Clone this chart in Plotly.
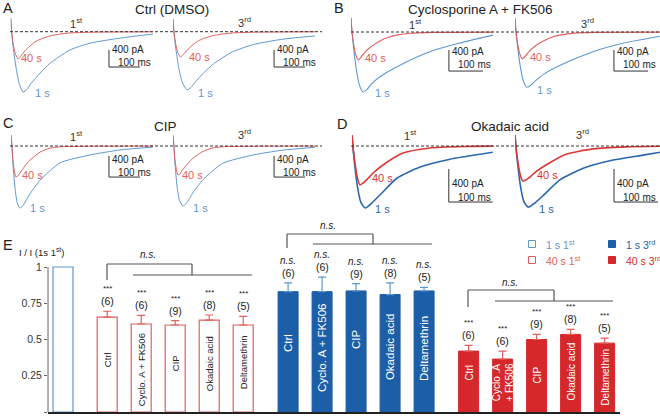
import plotly.graph_objects as go

W, H = 660, 416
FONT = "Liberation Sans, Arial, sans-serif"

# ---------------- current traces (time in ms, current in pA) ----------------
A1_blue_t = [0, 3, 7, 17, 27, 40, 53, 62, 95, 127, 191, 256, 353, 459]
A1_blue_i = [320, 0, -310, -830, -1210, -1420, -1350, -1250, -970, -740, -430, -270, -150, -55]
A1_red_t = [0, 3, 7, 15, 24, 33, 46, 62, 78, 95, 127, 159, 191, 256, 459]
A1_red_i = [320, 0, -240, -520, -640, -570, -450, -340, -240, -180, -100, -55, -30, -12, -2]
A2_blue_t = [0, 3, 7, 17, 28, 45, 58, 70, 100, 130, 190, 260, 350, 458]
A2_blue_i = [300, 0, -290, -780, -1150, -1370, -1310, -1200, -960, -760, -480, -300, -180, -100]
A2_red_t = [0, 3, 7, 15, 24, 33, 46, 62, 78, 95, 127, 159, 191, 256, 459]
A2_red_i = [300, 0, -220, -480, -595, -540, -430, -320, -230, -170, -95, -55, -30, -12, -2]

B1_blue_t = [0, 3, 7, 15, 24, 35, 47, 60, 85, 144, 232, 320, 418]
B1_blue_i = [270, 0, -260, -680, -990, -1140, -1090, -990, -850, -630, -375, -210, -60]
B1_red_t = [0, 3, 7, 14, 21, 29, 40, 55, 70, 85, 110, 135, 175, 240, 418]
B1_red_i = [270, 0, -200, -430, -530, -480, -390, -300, -230, -170, -100, -60, -25, -8, -2]
B2_blue_t = [0, 3, 7, 15, 24, 35, 47, 60, 85, 144, 232, 320, 426]
B2_blue_i = [260, 0, -240, -630, -920, -1050, -1010, -930, -800, -600, -370, -210, -80]
B2_red_t = [0, 3, 7, 14, 21, 29, 40, 55, 70, 85, 110, 135, 175, 240, 426]
B2_red_i = [260, 0, -190, -410, -510, -470, -380, -290, -220, -165, -95, -55, -22, -8, -2]

C1_blue_t = [0, 3, 6, 13, 20, 29, 40, 50, 61, 94, 158, 255, 352, 458]
C1_blue_i = [210, 0, -330, -800, -1080, -1180, -1120, -1020, -910, -650, -320, -170, -75, -20]
C1_red_t = [0, 3, 6, 11, 16, 22, 29, 45, 61, 94, 126, 160, 250, 458]
C1_red_i = [210, 0, -250, -480, -590, -570, -510, -380, -270, -115, -40, -15, -5, 0]
C2_blue_t = [0, 3, 6, 13, 21, 32, 43, 53, 64, 97, 160, 255, 352, 458]
C2_blue_i = [200, 0, -310, -760, -1040, -1140, -1090, -1000, -890, -640, -330, -175, -80, -25]
C2_red_t = [0, 3, 6, 11, 16, 22, 29, 45, 61, 94, 126, 160, 250, 458]
C2_red_i = [200, 0, -240, -450, -550, -530, -470, -350, -250, -110, -40, -15, -5, 0]

D1_blue_t = [0, 2, 6, 12, 20, 30, 45, 64, 102, 155, 223, 291, 320]
D1_blue_i = [130, 0, -220, -480, -680, -750, -690, -590, -390, -255, -160, -100, -75]
D1_red_t = [0, 2, 6, 12, 18, 25, 35, 48, 80, 116, 177, 252, 320]
D1_red_i = [130, 0, -180, -380, -470, -450, -400, -327, -194, -85, -24, -6, -2]
D2_blue_t = [0, 2, 6, 12, 20, 30, 45, 64, 102, 155, 223, 291, 330]
D2_blue_i = [130, 0, -215, -470, -670, -740, -690, -600, -410, -270, -170, -110, -75]
D2_red_t = [0, 2, 6, 12, 18, 25, 35, 48, 80, 116, 177, 252, 330]
D2_red_i = [130, 0, -170, -350, -424, -410, -370, -310, -200, -100, -35, -10, -3]

# ---------------- bar data (panel E) ----------------
drug_labels = ["Ctrl", "Cyclo. A + FK506", "CIP", "Okadaic acid", "Deltamethrin"]
drug_labels_40s3 = ["Ctrl", "Cyclo .A<br>+ FK506", "CIP", "Okadaic acid", "Deltamethrin"]
ref_1s_1st = [1.0]
mean_40s_1st = [0.655, 0.607, 0.600, 0.634, 0.600]
sem_40s_1st = [0.040, 0.060, 0.030, 0.035, 0.060]
mean_1s_3rd = [0.830, 0.830, 0.835, 0.810, 0.835]
sem_1s_3rd = [0.060, 0.100, 0.050, 0.080, 0.025]
mean_40s_3rd = [0.420, 0.365, 0.500, 0.535, 0.475]
sem_40s_3rd = [0.040, 0.055, 0.035, 0.035, 0.035]
n_cells = [6, 6, 9, 8, 5]
sig_40s_1st = ["***"] * 5
sig_1s_3rd = ["n.s."] * 5
sig_40s_3rd = ["***"] * 5
y_ticks = [0, 0.25, 0.5, 0.75, 1]
y_ticklabels = ["0", "0.25", "0.5", "0.75", "1"]

# ---------------- colours ----------------
BLUE_L = "#5f97d0"
RED_L = "#e0605e"
BLUE_D = "#2a68ad"
RED_D = "#d93a37"
BLUE_BAR = "#1c5ea7"
RED_BAR = "#d6282b"

fig = go.Figure()
layout = dict(width=W, height=H, margin=dict(l=0, r=0, t=0, b=0),
              paper_bgcolor="white", plot_bgcolor="rgba(0,0,0,0)",
              showlegend=False, font=dict(family=FONT, color="#222"))
shapes, anns = [], []


def px(x):
    return x / W


def py(y):
    return 1 - y / H


def text(t, x, y, size=11, color="#222", xa="center", ya="middle", angle=0):
    anns.append(dict(text=t, x=px(x), y=py(y), xref="paper", yref="paper",
                     xanchor=xa, yanchor=ya, showarrow=False, textangle=angle,
                     font=dict(size=size, color=color, family=FONT)))


# subplot geometry: x0 px, right px, baseline px, px per ms, pA per px
subs = [
    ("A1", 10.7, 170, 31.7, 0.31, 23.5, A1_blue_t, A1_blue_i, A1_red_t, A1_red_i, BLUE_L, RED_L, 1.0, 317),
    ("A2", 173, 330, 31.7, 0.31, 23.5, A2_blue_t, A2_blue_i, A2_red_t, A2_red_i, BLUE_L, RED_L, 1.0, 326),
    ("B1", 351, 505, 32, 0.34, 19.0, B1_blue_t, B1_blue_i, B1_red_t, B1_red_i, BLUE_L, RED_L, 1.1, 288),
    ("B2", 515, 660, 32, 0.34, 19.0, B2_blue_t, B2_blue_i, B2_red_t, B2_red_i, BLUE_L, RED_L, 1.1, 291),
    ("C1", 11, 170, 146, 0.31, 19.0, C1_blue_t, C1_blue_i, C1_red_t, C1_red_i, BLUE_L, RED_L, 1.0, 316),
    ("C2", 173, 330, 146, 0.31, 19.0, C2_blue_t, C2_blue_i, C2_red_t, C2_red_i, BLUE_L, RED_L, 1.0, 326),
    ("D1", 352, 505, 146, 0.44, 12.1, D1_blue_t, D1_blue_i, D1_red_t, D1_red_i, BLUE_D, RED_D, 1.6, 220),
    ("D2", 515, 660, 146, 0.44, 12.1, D2_blue_t, D2_blue_i, D2_red_t, D2_red_i, BLUE_D, RED_D, 1.6, 225),
]
# scale-bar top (pA) per subplot
sb_top = {"A1": -430, "A2": -430, "B1": -342, "B2": -342, "C1": -190, "C2": -190, "D1": -278, "D2": -278}
# label positions (px) for "40 s" and "1 s" per subplot
lab40 = {"A1": (19, 58), "A2": (187, 57), "B1": (363, 58), "B2": (528, 57),
         "C1": (20, 175), "C2": (180, 175), "D1": (370, 178), "D2": (535, 175)}
lab1 = {"A1": (33, 93), "A2": (196, 93), "B1": (373, 93), "B2": (535, 90),
        "C1": (28, 208), "C2": (191, 208), "D1": (373, 209), "D2": (537, 209)}

for k, (name, x0, x1, base, pxms, papx, bt, bi, rt, ri, cb, cr, lw, sbx) in enumerate(subs, start=1):
    xa = "x" if k == 1 else f"x{k}"
    ya = "y" if k == 1 else f"y{k}"
    layout["xaxis" if k == 1 else f"xaxis{k}"] = dict(
        domain=[px(x0), px(x1)], range=[0, (x1 - x0) / pxms], visible=False, anchor=ya)
    layout["yaxis" if k == 1 else f"yaxis{k}"] = dict(
        domain=[py(base + 78), py(base - 20)], range=[-78 * papx, 20 * papx], visible=False, anchor=xa)
    fig.add_trace(go.Scatter(x=bt, y=bi, xaxis=xa, yaxis=ya, mode="lines", hoverinfo="skip",
                             line=dict(color=cb, width=lw, shape="spline", smoothing=0.6)))
    fig.add_trace(go.Scatter(x=rt, y=ri, xaxis=xa, yaxis=ya, mode="lines", hoverinfo="skip",
                             line=dict(color=cr, width=lw, shape="spline", smoothing=0.6)))
    # scale bars
    top = sb_top[name]
    shapes.append(dict(type="line", xref=xa, yref=ya, x0=sbx, x1=sbx, y0=top, y1=top - 400,
                       line=dict(color="#333", width=1)))
    shapes.append(dict(type="line", xref=xa, yref=ya, x0=sbx, x1=sbx + 100, y0=top - 400, y1=top - 400,
                       line=dict(color="#333", width=1)))
    if name in ("A1", "B1", "C1", "D1"):
        xs, xe = (10, 322) if name in ("A1", "C1") else (351, 660)
        shapes.append(dict(type="line", xref="paper", yref=ya, x0=px(xs), x1=px(xe), y0=0, y1=0,
                           line=dict(color="#333", width=1, dash="3px,2px")))
    text("40 s", lab40[name][0], lab40[name][1], 11, cr, "left")
    text("1 s", lab1[name][0], lab1[name][1], 11, cb, "left")

# scale bar texts (vertical bar x in px, label y centres)
for (x, y1, y2) in [(109, 49, 62), (274, 49, 62), (449, 51, 64), (614, 51, 64),
                    (109, 159, 172), (274, 159, 172), (449, 183, 197), (614, 183, 197)]:
    text("400 pA", x + 1, y1, 10, "#222", "left")
    text("100 ms", x + 44, y2, 10, "#222", "right")

for (x, y, t) in [(76, 23, "1<sup>st</sup>"), (244, 22, "3<sup>rd</sup>"), (415, 24, "1<sup>st</sup>"),
                  (587, 23, "3<sup>rd</sup>"), (76, 136, "1<sup>st</sup>"), (244, 134, "3<sup>rd</sup>"),
                  (410, 135, "1<sup>st</sup>"), (582, 134, "3<sup>rd</sup>")]:
    text(t, x, y, 11, "#333")

text("Ctrl (DMSO)", 172, 9, 13.5)
text("Cyclosporine A + FK506", 480, 9, 13.5)
text("CIP", 165, 126, 13.5)
text("Okadaic acid", 510, 126, 13.5)
for (t, x, y) in [("A", 1, 8), ("B", 332, 8), ("C", 1, 123), ("D", 335, 124), ("E", 1, 245)]:
    text(t, x, y, 14.5, "#222", "left")

# ---------------- panel E ----------------
UNIT = 34.0
X_ORIGIN = 63.0
pos0 = [0.0]
pos1 = [1.3 + i for i in range(5)]
pos2 = [6.62 + i for i in range(5)]
pos3 = [11.93 + i for i in range(5)]
layout["xaxis9"] = dict(domain=[px(48), px(620)], range=[(48 - X_ORIGIN) / UNIT, (620 - X_ORIGIN) / UNIT],
                        anchor="y9", showline=True, linecolor="#222", linewidth=2, showticklabels=False,
                        ticks="", showgrid=False, zeroline=False)
YPX = 145.0
layout["yaxis9"] = dict(domain=[py(412), py(412 - 1.372 * YPX)], range=[0, 1.372], anchor="x9",
                        showline=False, showgrid=False, zeroline=False, tickvals=y_ticks,
                        ticktext=y_ticklabels, ticks="outside", ticklen=3, tickcolor="#666",
                        tickfont=dict(size=10.5, color="#333"))
shapes.append(dict(type="line", xref="paper", yref="y9", x0=px(48), x1=px(48), y0=0, y1=1,
                   line=dict(color="#666", width=1)))
BW = 20 / UNIT
fig.add_trace(go.Bar(x=pos0, y=ref_1s_1st, width=BW, xaxis="x9", yaxis="y9", hoverinfo="skip",
                     marker=dict(color="white", line=dict(color=BLUE_L, width=1.2))))
fig.add_trace(go.Bar(x=pos1, y=mean_40s_1st, width=BW, xaxis="x9", yaxis="y9", hoverinfo="skip",
                     marker=dict(color="white", line=dict(color=RED_L, width=1.2)),
                     error_y=dict(type="data", symmetric=False, array=sem_40s_1st, arrayminus=[0] * 5,
                                  color=RED_L, thickness=1.2, width=4)))
fig.add_trace(go.Bar(x=pos2, y=mean_1s_3rd, width=BW, xaxis="x9", yaxis="y9", hoverinfo="skip",
                     marker=dict(color=BLUE_BAR, line=dict(color=BLUE_BAR, width=1)),
                     error_y=dict(type="data", symmetric=False, array=sem_1s_3rd, arrayminus=[0] * 5,
                                  color="#5f97d0", thickness=1.2, width=4)))
fig.add_trace(go.Bar(x=pos3, y=mean_40s_3rd, width=BW, xaxis="x9", yaxis="y9", hoverinfo="skip",
                     marker=dict(color=RED_BAR, line=dict(color=RED_BAR, width=1)),
                     error_y=dict(type="data", symmetric=False, array=sem_40s_3rd, arrayminus=[0] * 5,
                                  color="#e0605e", thickness=1.2, width=4)))


def dann(t, x, y, size, color, yshift=0, ya="bottom", angle=0, italic=False):
    anns.append(dict(text=f"<i>{t}</i>" if italic else t, x=x, y=y, xref="x9", yref="y9",
                     xanchor="center", yanchor=ya, yshift=yshift, showarrow=False, textangle=angle,
                     font=dict(size=size, color=color, family=FONT)))


def vy(pyv):
    return (412 - pyv) / YPX


for pos, means, sems, sigs, italic, lab_y, labs, lcol, lsize in [
    (pos1, mean_40s_1st, sem_40s_1st, sig_40s_1st, False, [360, 370, 363, 364, 362], drug_labels, "#222", 9.5),
    (pos2, mean_1s_3rd, sem_1s_3rd, sig_1s_3rd, True, [343, 348, 339, 347, 349], drug_labels, "white", 11.5),
    (pos3, mean_40s_3rd, sem_40s_3rd, sig_40s_3rd, False, [373, 382, 375, 372, 377], drug_labels_40s3, "white", 10),
]:
    for i in range(5):
        top = means[i] + sems[i]
        dann(f"({n_cells[i]})", pos[i], top, 10.5, "#222", yshift=2)
        if italic:
            dann(sigs[i], pos[i], top, 10, "#222", yshift=15, italic=True)
        else:
            dann(sigs[i], pos[i], top, 8, "#222", yshift=16)
        dann(labs[i], pos[i], vy(lab_y[i]), lsize, lcol, ya="middle", angle=-90)


def xu(pxv):
    return (pxv - X_ORIGIN) / UNIT


# significance brackets (positions in px converted to axis units)
for (xl, xr, xlo0, xlo1, ytop, yleft, ylow, ns_x, ns_y) in [
    (107, 192, 133, 252, 264, 280, 275, 148, 255),
    (287, 373, 313, 432, 234, 248, 244, 328, 226),
    (468, 554, 495, 613, 290, 307, 301, 510, 282),
]:
    for (a, b, c, d) in [(xl, yleft, xl, ytop), (xl, ytop, xr, ytop), (xr, ytop, xr, ylow), (xlo0, ylow, xlo1, ylow)]:
        shapes.append(dict(type="line", xref="x9", yref="y9", x0=xu(a), y0=vy(b), x1=xu(c), y1=vy(d),
                           line=dict(color="#555", width=1.2)))
    dann("n.s.", xu(ns_x), vy(ns_y), 10, "#222", ya="middle", italic=True)

text("I / I (1s 1<sup>st</sup>)", 17, 252, 9.5, "#222", "left")

# legend
for (cx, cy, fill, line, label, tcol) in [
    (532, 244, "white", BLUE_L, "1 s 1<sup>st</sup>", BLUE_L),
    (532, 260, "white", RED_L, "40 s 1<sup>st</sup>", RED_L),
    (612, 244, BLUE_BAR, BLUE_BAR, "1 s 3<sup>rd</sup>", BLUE_BAR),
    (612, 260, RED_BAR, RED_BAR, "40 s 3<sup>rd</sup>", RED_BAR),
]:
    shapes.append(dict(type="rect", xref="paper", yref="paper", x0=px(cx - 3.5), x1=px(cx + 3.5),
                       y0=py(cy + 3.5), y1=py(cy - 3.5), fillcolor=fill, line=dict(color=line, width=1)))
    text(label, cx + 12, cy, 10.5, tcol, "left")

layout["shapes"] = shapes
layout["annotations"] = anns
fig.update_layout(**layout)
fig.write_html("out.html", config={"displayModeBar": False},
               post_script="document.body.style.margin='0';")
